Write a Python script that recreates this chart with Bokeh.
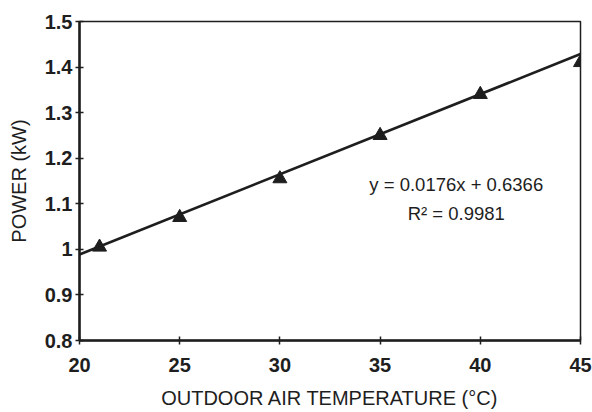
from bokeh.plotting import figure
from bokeh.models import FixedTicker, Label, Range1d
from bokeh.embed import file_html
from bokeh.resources import INLINE

# Data
temperature = [21, 25, 30, 35, 40, 45]
power = [1.005, 1.07, 1.155, 1.25, 1.34, 1.41]

# Trend line coefficients (from chart annotation)
slope = 0.0176
intercept = 0.6366
trend_x = [20, 45]
trend_y = [slope * x + intercept for x in trend_x]

x_ticks = [20, 25, 30, 35, 40, 45]
y_ticks = [0.8, 0.9, 1.0, 1.1, 1.2, 1.3, 1.4, 1.5]
y_tick_labels = ["0.8", "0.9", "1", "1.1", "1.2", "1.3", "1.4", "1.5"]

eq_text = "y = 0.0176x + 0.6366"
r2_text = "R² = 0.9981"

FONT = "Liberation Sans"
INK = "#1e1e1e"

p = figure(width=592, height=412, output_backend="svg", toolbar_location=None,
           x_range=Range1d(20, 45), y_range=Range1d(0.8, 1.5),
           min_border_left=79, min_border_right=12, min_border_top=21, min_border_bottom=72)

p.xgrid.visible = False
p.ygrid.visible = False
p.outline_line_color = INK
p.outline_line_width = 1.5
p.background_fill_color = "white"
p.border_fill_color = "white"

for ax in (p.xaxis[0], p.yaxis[0]):
    ax.axis_line_color = INK
    ax.axis_line_width = 2.5
    ax.major_tick_line_color = INK
    ax.major_tick_line_width = 1.5
    ax.major_tick_in = 4
    ax.major_tick_out = 4
    ax.minor_tick_line_color = None
    ax.major_label_text_font = FONT
    ax.major_label_text_font_size = "20px"
    ax.major_label_text_font_style = "bold"
    ax.major_label_text_color = INK
    ax.axis_label_text_font = FONT
    ax.axis_label_text_font_size = "20px"
    ax.axis_label_text_font_style = "normal"
    ax.axis_label_text_color = INK

p.xaxis.ticker = FixedTicker(ticks=x_ticks)
p.yaxis.ticker = FixedTicker(ticks=y_ticks)
p.yaxis.major_label_overrides = {t: l for t, l in zip(y_ticks, y_tick_labels)}
p.xaxis.major_label_standoff = 13
p.yaxis.major_label_standoff = 3
p.xaxis.axis_label = "OUTDOOR AIR TEMPERATURE (°C)"
p.yaxis.axis_label = "POWER (kW)"
p.xaxis.axis_label_standoff = 12
p.yaxis.axis_label_standoff = 12

p.line(trend_x, trend_y, line_color=INK, line_width=2.6)
p.scatter(temperature, power, marker="triangle", size=14, fill_color=INK, line_color=INK)

p.add_layout(Label(x=38.8, y=1.142, text=eq_text, text_align="center", text_baseline="middle",
                   text_font=FONT, text_font_size="18.5px", text_color=INK))
p.add_layout(Label(x=38.8, y=1.078, text=r2_text, text_align="center", text_baseline="middle",
                   text_font=FONT, text_font_size="18.5px", text_color=INK))

open("out.html", "w").write(file_html(p, INLINE))
